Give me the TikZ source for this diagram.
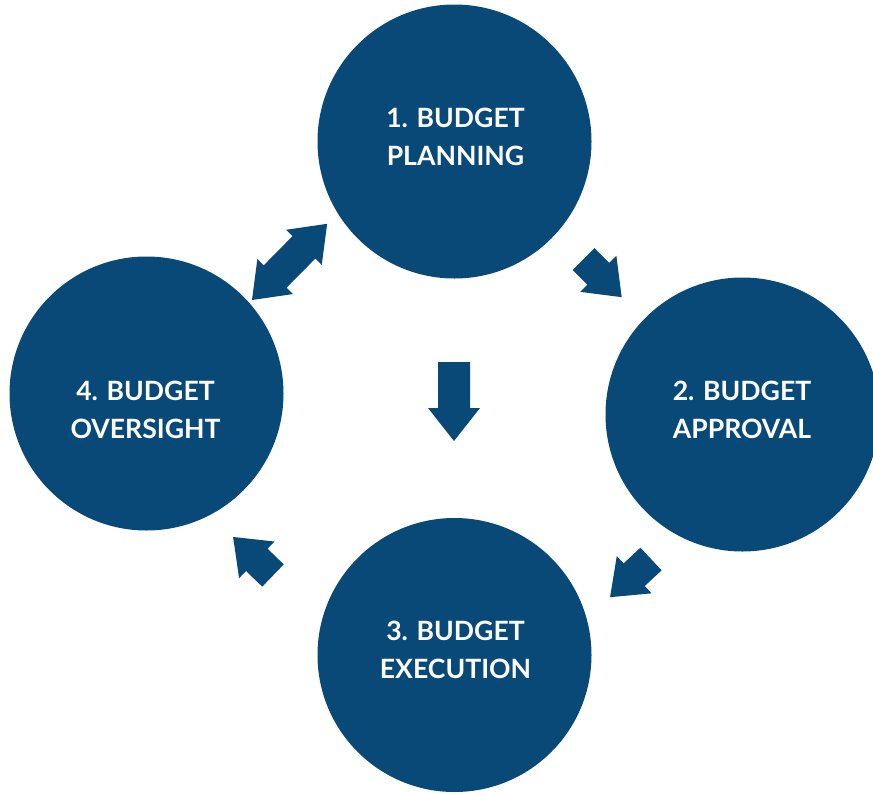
\documentclass[tikz,border=0pt]{standalone}
\usepackage{fontspec}
\setmainfont{Lato}
\definecolor{navy}{RGB}{8,73,120}
\tikzset{
  phase/.style={circle, fill=navy, draw=none, inner sep=0pt, minimum size=274pt},
  phasetext/.style={text=white, font=\fontsize{26.6}{38}\selectfont\bfseries, align=center, inner sep=0pt},
}
% single block arrow: #1 tail centre, #2 angle, #3 length, #4 shaft half, #5 head half
\newcommand{\blkarrow}[5]{%
  \fill[navy, shift={#1}, rotate=#2] (0pt,#4pt) -- (#3pt-33pt,#4pt) -- (#3pt-33pt,#5pt) -- (#3pt,0pt)
    -- (#3pt-33pt,-#5pt) -- (#3pt-33pt,-#4pt) -- (0pt,-#4pt) -- cycle;}
\begin{document}
\begin{tikzpicture}[x=1pt,y=-1pt]
\useasboundingbox (0,0) rectangle (873,793);
\clip (0,0) rectangle (873,793);
\node[phase] (c1) at (454.5,141.5) {};
\node[phase] (c2) at (742.5,414.5) {};
\node[phase] (c3) at (454.5,655) {};
\node[phase] (c4) at (146.5,393.5) {};
\node[phasetext] (t1) at (455.5,136.5) {1. BUDGET\\PLANNING};
\node[phasetext] (t2) at (742,409.5) {2. BUDGET\\APPROVAL};
\node[phasetext] (t3) at (455.5,650) {3. BUDGET\\EXECUTION};
\node[phasetext] (t4) at (145.5,409.5) {4. BUDGET\\OVERSIGHT};
% arrows
\blkarrow{(454,362)}{-90}{79}{16}{26}
\blkarrow{(583.5,259)}{-45}{54}{15.5}{25.5}
\blkarrow{(651,559)}{-137}{56}{15.5}{25.5}
\blkarrow{(273,575.5)}{136}{55.5}{15.5}{25.5}
% double arrow
\fill[navy, shift={(252,300)}, rotate=45.4] (0pt,0pt) -- (33pt,25pt) -- (33pt,16pt) -- (74pt,16pt) -- (74pt,25pt) -- (107pt,0pt)
  -- (74pt,-25pt) -- (74pt,-16pt) -- (33pt,-16pt) -- (33pt,-25pt) -- cycle;
\end{tikzpicture}
\end{document}
